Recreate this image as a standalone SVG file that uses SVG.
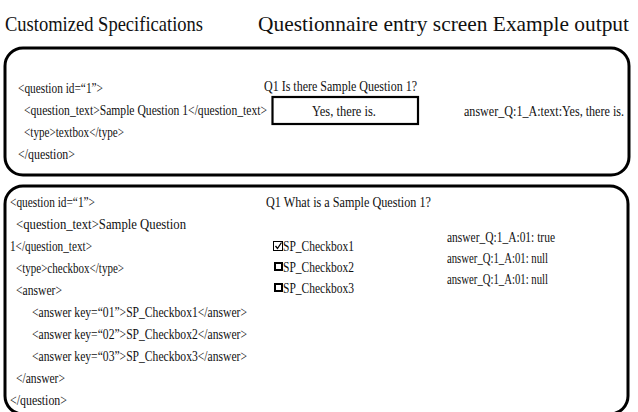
<svg xmlns="http://www.w3.org/2000/svg" width="638" height="412" viewBox="0 0 638 412">
  <style>
    text { font-family: "Liberation Serif", "DejaVu Serif", serif; fill: #111; }
    .hd { font-size: 21px; }
    .t { font-size: 15px; }
    .panel { fill: #fff; stroke: #000; stroke-width: 3; }
    .field { fill: #fff; stroke: #000; stroke-width: 2.2; }
    .cb { fill: #fff; stroke: #000; stroke-width: 2; }
    .cbon { fill: #fff; stroke: #000; stroke-width: 1; }
  </style>
  <rect width="638" height="412" fill="#fff"/>

  <!-- column headings -->
  <g id="headings">
    <text class="hd" x="5" y="31" textLength="198" lengthAdjust="spacingAndGlyphs">Customized Specifications</text>
    <text class="hd" x="258" y="31" textLength="371" lengthAdjust="spacingAndGlyphs">Questionnaire entry screen Example output</text>
  </g>

  <!-- textbox question -->
  <g id="textbox-panel">
    <rect class="panel" x="5" y="48" width="624" height="127" rx="18" ry="18"/>
    <text class="t" x="18" y="93" textLength="85" lengthAdjust="spacingAndGlyphs">&lt;question id=“1”&gt;</text>
    <text class="t" x="24" y="115" textLength="243" lengthAdjust="spacingAndGlyphs">&lt;question_text&gt;Sample Question 1&lt;/question_text&gt;</text>
    <text class="t" x="24" y="137" textLength="100" lengthAdjust="spacingAndGlyphs">&lt;type&gt;textbox&lt;/type&gt;</text>
    <text class="t" x="18" y="159" textLength="57" lengthAdjust="spacingAndGlyphs">&lt;/question&gt;</text>

    <text class="t" x="264" y="91" textLength="153" lengthAdjust="spacingAndGlyphs">Q1 Is there Sample Question 1?</text>
    <rect class="field" x="272.5" y="97" width="145.5" height="27"/>
    <text class="t" x="312" y="116" textLength="64" lengthAdjust="spacingAndGlyphs">Yes, there is.</text>

    <text class="t" x="464" y="116" textLength="160" lengthAdjust="spacingAndGlyphs">answer_Q:1_A:text:Yes, there is.</text>
  </g>

  <!-- checkbox question -->
  <g id="checkbox-panel">
    <rect class="panel" x="5" y="186" width="623" height="228" rx="18" ry="18"/>
    <text class="t" x="10" y="207" textLength="85" lengthAdjust="spacingAndGlyphs">&lt;question id=“1”&gt;</text>
    <text class="t" x="16" y="229" textLength="170" lengthAdjust="spacingAndGlyphs">&lt;question_text&gt;Sample Question</text>
    <text class="t" x="10" y="251" textLength="82" lengthAdjust="spacingAndGlyphs">1&lt;/question_text&gt;</text>
    <text class="t" x="16" y="273" textLength="108" lengthAdjust="spacingAndGlyphs">&lt;type&gt;checkbox&lt;/type&gt;</text>
    <text class="t" x="16" y="295" textLength="46" lengthAdjust="spacingAndGlyphs">&lt;answer&gt;</text>
    <text class="t" x="32" y="317" textLength="215" lengthAdjust="spacingAndGlyphs">&lt;answer key=“01”&gt;SP_Checkbox1&lt;/answer&gt;</text>
    <text class="t" x="32" y="339" textLength="215" lengthAdjust="spacingAndGlyphs">&lt;answer key=“02”&gt;SP_Checkbox2&lt;/answer&gt;</text>
    <text class="t" x="32" y="361" textLength="215" lengthAdjust="spacingAndGlyphs">&lt;answer key=“03”&gt;SP_Checkbox3&lt;/answer&gt;</text>
    <text class="t" x="16" y="383" textLength="49" lengthAdjust="spacingAndGlyphs">&lt;/answer&gt;</text>
    <text class="t" x="10" y="405" textLength="57" lengthAdjust="spacingAndGlyphs">&lt;/question&gt;</text>

    <text class="t" x="266" y="207" textLength="165" lengthAdjust="spacingAndGlyphs">Q1 What is a Sample Question 1?</text>

    <!-- checked option -->
    <rect class="cbon" x="273.5" y="241.5" width="9" height="9"/>
    <path d="M275.5 246 L277.5 248.5 L281.5 242.5" fill="none" stroke="#000" stroke-width="1.3"/>
    <text class="t" x="283" y="251" textLength="71" lengthAdjust="spacingAndGlyphs">SP_Checkbox1</text>
    <!-- unchecked options -->
    <rect class="cb" x="275" y="263" width="7" height="7"/>
    <text class="t" x="283" y="272" textLength="71" lengthAdjust="spacingAndGlyphs">SP_Checkbox2</text>
    <rect class="cb" x="275" y="284" width="7" height="7"/>
    <text class="t" x="283" y="293" textLength="71" lengthAdjust="spacingAndGlyphs">SP_Checkbox3</text>

    <text class="t" x="447" y="242" textLength="108" lengthAdjust="spacingAndGlyphs">answer_Q:1_A:01: true</text>
    <text class="t" x="447" y="263" textLength="101" lengthAdjust="spacingAndGlyphs">answer_Q:1_A:01: null</text>
    <text class="t" x="447" y="284" textLength="101" lengthAdjust="spacingAndGlyphs">answer_Q:1_A:01: null</text>
  </g>
</svg>
